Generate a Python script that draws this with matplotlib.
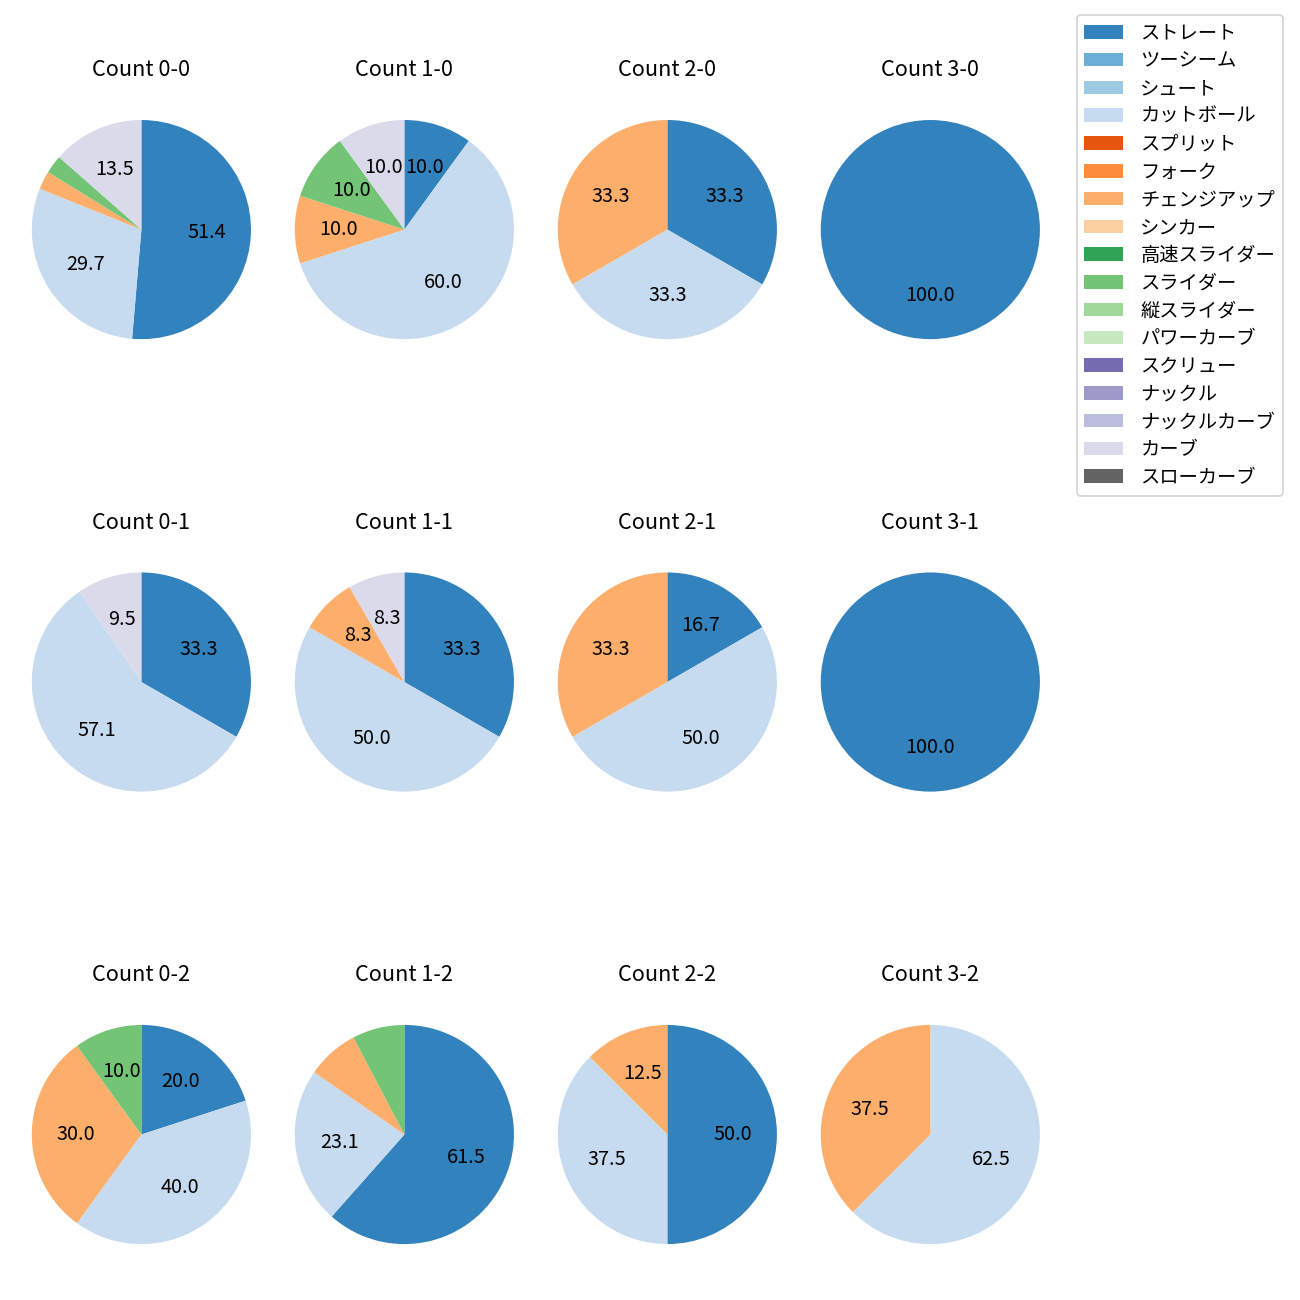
import matplotlib
matplotlib.use("Agg")
import matplotlib.pyplot as plt
from matplotlib.patches import Patch

plt.rcParams['font.family'] = ['Noto Sans CJK JP', 'DejaVu Sans']

pitches = ["ストレート", "ツーシーム", "シュート", "カットボール", "スプリット", "フォーク",
           "チェンジアップ", "シンカー", "高速スライダー", "スライダー", "縦スライダー",
           "パワーカーブ", "スクリュー", "ナックル", "ナックルカーブ", "カーブ", "スローカーブ"]
colors = ["#3182bd", "#6baed6", "#9ecae1", "#c6dbef", "#e6550d", "#fd8d3c",
          "#fdae6b", "#fdd0a2", "#31a354", "#74c476", "#a1d99b", "#c7e9c0",
          "#756bb1", "#9e9ac8", "#bcbddc", "#dadaeb", "#636363"]

# pitch counts per ball-strike count (order of pitches list)
counts = {
    "0-0": {"ストレート": 19, "カットボール": 11, "チェンジアップ": 1, "スライダー": 1, "カーブ": 5},
    "1-0": {"ストレート": 1, "カットボール": 6, "チェンジアップ": 1, "スライダー": 1, "カーブ": 1},
    "2-0": {"ストレート": 1, "カットボール": 1, "チェンジアップ": 1},
    "3-0": {"ストレート": 1},
    "0-1": {"ストレート": 7, "カットボール": 12, "カーブ": 2},
    "1-1": {"ストレート": 4, "カットボール": 6, "チェンジアップ": 1, "カーブ": 1},
    "2-1": {"ストレート": 1, "カットボール": 3, "チェンジアップ": 2},
    "3-1": {"ストレート": 1},
    "0-2": {"ストレート": 2, "カットボール": 4, "チェンジアップ": 3, "スライダー": 1},
    "1-2": {"ストレート": 8, "カットボール": 3, "チェンジアップ": 1, "スライダー": 1},
    "2-2": {"ストレート": 4, "カットボール": 3, "チェンジアップ": 1},
    "3-2": {"カットボール": 5, "チェンジアップ": 3},
}
order = ["0-0", "1-0", "2-0", "3-0", "0-1", "1-1", "2-1", "3-1", "0-2", "1-2", "2-2", "3-2"]

fig, axes = plt.subplots(3, 4, figsize=(10, 10), dpi=130)
fig.subplots_adjust(left=0.0034, right=0.821, top=0.9388, bottom=0.0119,
                    wspace=-0.04, hspace=0.508)

for ax, key in zip(axes.flat, order):
    d = counts[key]
    names = [p for p in pitches if p in d]
    vals = [d[p] for p in names]
    cols = [colors[pitches.index(p)] for p in names]
    ax.pie(vals, colors=cols, startangle=90, counterclock=False,
           autopct=lambda p: f"{p:.1f}" if p >= 8 else "",
           textprops={"fontsize": 11})
    ax.set_title(f"Count {key}", pad=9)

handles = [Patch(facecolor=c, label=p) for p, c in zip(pitches, colors)]
fig.legend(handles=handles, loc="upper right", bbox_to_anchor=(0.9943, 0.9959),
           fontsize=10.7, labelspacing=0.35, handletextpad=0.9)

fig.savefig("out.png")
